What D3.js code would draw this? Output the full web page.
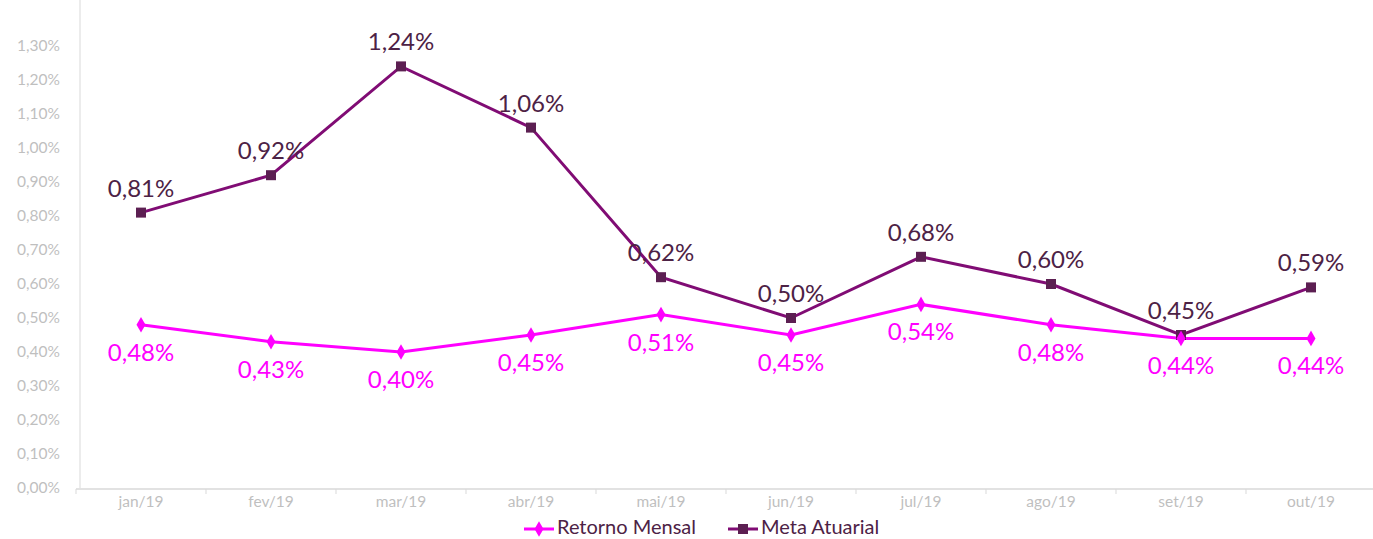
<!DOCTYPE html>
<html lang="pt">
<head>
<meta charset="utf-8">
<title>Retorno Mensal x Meta Atuarial</title>
<script src="https://cdn.jsdelivr.net/npm/d3@7"></script>
<style>
body { margin: 0; background: #fff; }
text { font-family: Lato, "Open Sans", sans-serif; }
.axis path, .axis line { stroke: #d9d9d9; }
.axis text { fill: #bfbfbf; font-size: 15.5px; }
</style>
</head>
<body>
<div id="chart"></div>
<script>
"use strict";

var months = ["jan/19", "fev/19", "mar/19", "abr/19", "mai/19", "jun/19", "jul/19", "ago/19", "set/19", "out/19"];
var retornoMensal = [0.48, 0.43, 0.40, 0.45, 0.51, 0.45, 0.54, 0.48, 0.44, 0.44];
var metaAtuarial = [0.81, 0.92, 1.24, 1.06, 0.62, 0.50, 0.68, 0.60, 0.45, 0.59];
var yTicks = [0, 0.1, 0.2, 0.3, 0.4, 0.5, 0.6, 0.7, 0.8, 0.9, 1.0, 1.1, 1.2, 1.3];
var seriesNames = ["Retorno Mensal", "Meta Atuarial"];

var width = 1373, height = 539;

var svg = d3.select("#chart").append("svg")
    .attr("width", width)
    .attr("height", height);

var x = d3.scaleBand().domain(months).range([76, 1376]);
var y = d3.scaleLinear().domain([0, 1.3]).range([488, 46]);

function pct(v) { return v.toFixed(2).replace(".", ",") + "%"; }

// y axis
var yAxis = svg.append("g").attr("class", "axis")
    .attr("transform", "translate(80,0)")
    .call(d3.axisLeft(y).tickValues(yTicks).tickSize(0).tickPadding(20).tickFormat(pct));
yAxis.select(".domain").attr("d", "M0,0V488");

// x axis with ticks on category boundaries
var xAxis = svg.append("g").attr("class", "axis")
    .attr("transform", "translate(0,489)")
    .call(d3.axisBottom(x).tickSize(0).tickPadding(7));
xAxis.select(".domain").attr("d", "M76,0H1376").attr("stroke-width", 1.5);
xAxis.selectAll(".bound")
    .data(months.concat([""]))
    .enter().append("line")
    .attr("class", "bound")
    .attr("x1", function(d, i) { return 76 + i * x.step(); })
    .attr("x2", function(d, i) { return 76 + i * x.step(); })
    .attr("y1", 0).attr("y2", 5)
    .attr("stroke", "#d9d9d9");

function cx(d, i) { return x(months[i]) + x.bandwidth() / 2; }

var line = d3.line()
    .x(function(d, i) { return cx(d, i); })
    .y(function(d) { return y(d); });

// Meta Atuarial
svg.append("path")
    .datum(metaAtuarial)
    .attr("fill", "none")
    .attr("stroke", "#800c74")
    .attr("stroke-width", 3)
    .attr("d", line);

// Retorno Mensal
svg.append("path")
    .datum(retornoMensal)
    .attr("fill", "none")
    .attr("stroke", "#ff00ff")
    .attr("stroke-width", 3)
    .attr("d", line);

svg.selectAll(".sq")
    .data(metaAtuarial)
    .enter().append("rect")
    .attr("class", "sq")
    .attr("x", function(d, i) { return cx(d, i) - 5; })
    .attr("y", function(d) { return y(d) - 5; })
    .attr("width", 10).attr("height", 10)
    .attr("fill", "#5c1f52");

var diamond = d3.symbol().type(d3.symbolDiamond).size(70);
svg.selectAll(".dm")
    .data(retornoMensal)
    .enter().append("path")
    .attr("class", "dm")
    .attr("d", diamond)
    .attr("transform", function(d, i) { return "translate(" + cx(d, i) + "," + y(d) + ")"; })
    .attr("fill", "#ff00ff");

// data labels
svg.selectAll(".lblMeta")
    .data(metaAtuarial)
    .enter().append("text")
    .attr("class", "lblMeta")
    .attr("x", function(d, i) { return cx(d, i); })
    .attr("y", function(d) { return y(d) - 16; })
    .attr("text-anchor", "middle")
    .attr("font-size", 24)
    .attr("fill", "#4d2245")
    .text(pct);

svg.selectAll(".lblRet")
    .data(retornoMensal)
    .enter().append("text")
    .attr("class", "lblRet")
    .attr("x", function(d, i) { return cx(d, i); })
    .attr("y", function(d) { return y(d) + 36; })
    .attr("text-anchor", "middle")
    .attr("font-size", 24)
    .attr("fill", "#ff00ff")
    .text(pct);

// legend
var legend = svg.append("g").attr("transform", "translate(524,529)");
var legColors = [["#ff00ff", "#ff00ff"], ["#800c74", "#5c1f52"]];
var legX = [0, 204];
seriesNames.forEach(function(name, i) {
  var g = legend.append("g").attr("transform", "translate(" + legX[i] + ",0)");
  g.append("line").attr("x1", 0).attr("x2", 30).attr("y1", 0).attr("y2", 0)
    .attr("stroke", legColors[i][0]).attr("stroke-width", 3);
  if (i === 0) {
    g.append("path").attr("d", diamond).attr("transform", "translate(15,0)").attr("fill", legColors[i][1]);
  } else {
    g.append("rect").attr("x", 10).attr("y", -5).attr("width", 10).attr("height", 10).attr("fill", legColors[i][1]);
  }
  g.append("text").attr("x", 33).attr("y", 5)
    .attr("font-size", 20)
    .attr("fill", "#4d2245")
    .text(name);
});
</script>
</body>
</html>
